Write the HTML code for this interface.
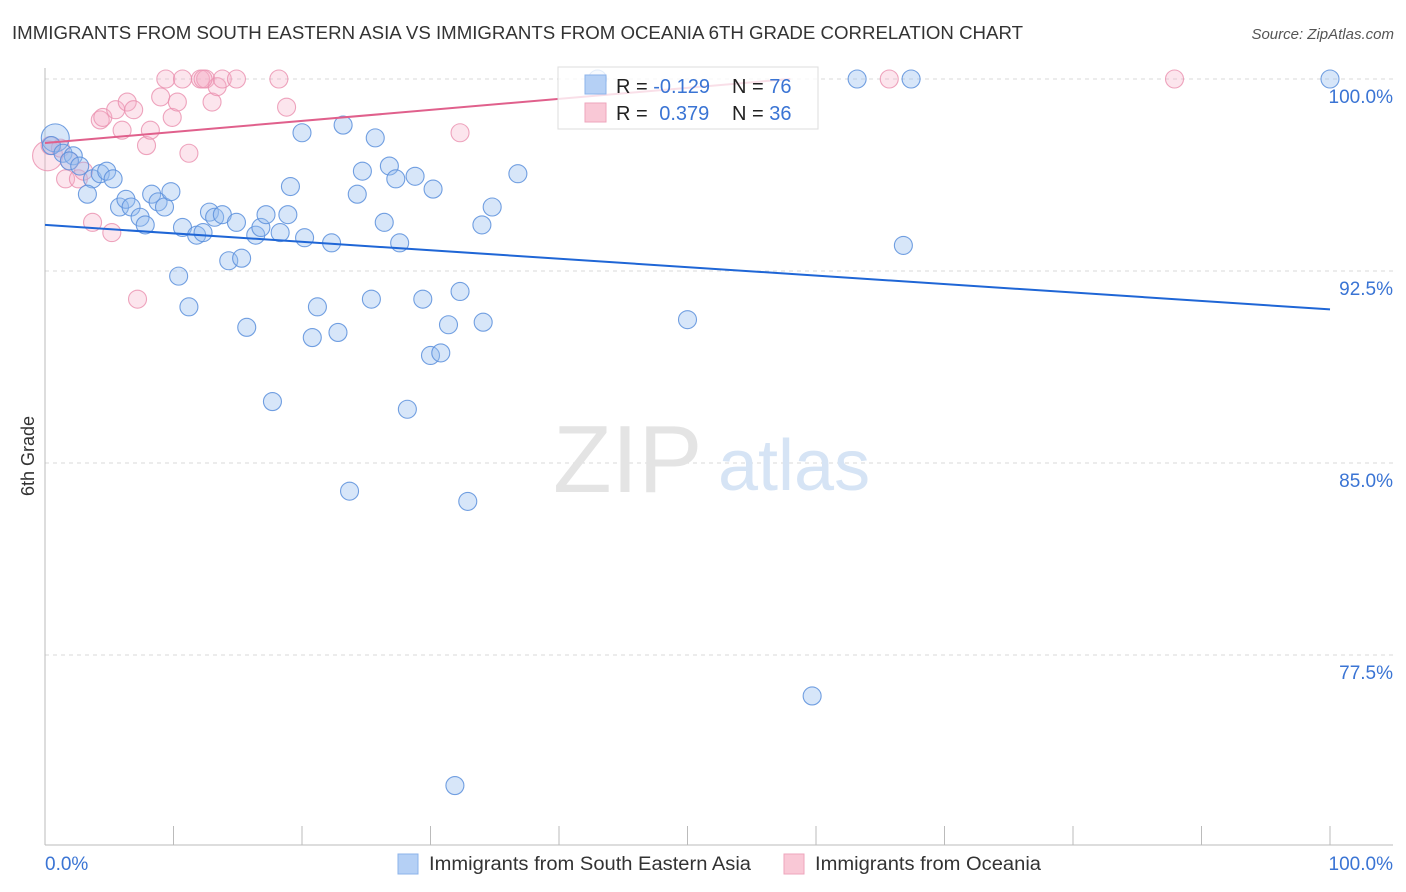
<!DOCTYPE html>
<html><head><meta charset="utf-8">
<style>
body{margin:0;background:#fff;font-family:"Liberation Sans",sans-serif;}
#wrap{position:relative;width:1406px;height:892px;overflow:hidden;}
svg text{font-family:"Liberation Sans",sans-serif;}
</style></head>
<body>
<div id="wrap">
<svg id="chart" width="1406" height="892">
<text x="12" y="39" font-size="18" fill="#333" textLength="1011" lengthAdjust="spacingAndGlyphs">IMMIGRANTS FROM SOUTH EASTERN ASIA VS IMMIGRANTS FROM OCEANIA 6TH GRADE CORRELATION CHART</text>
<text x="1394" y="39" font-size="15" fill="#555" font-style="italic" text-anchor="end">Source: ZipAtlas.com</text>
<text x="34" y="456" font-size="18" fill="#333" text-anchor="middle" transform="rotate(-90 34 456)">6th Grade</text>
<g id="grid"></g>
<text x="553" y="492" font-size="96" fill="#e4e4e4" font-family="Liberation Serif">ZIP</text>
<text x="718" y="490" font-size="72" fill="#d6e4f5">atlas</text>
<g id="pts"></g>
<g id="lines"></g>
<g>
<rect x="558" y="67" width="260" height="62" fill="rgba(255,255,255,0.8)" stroke="#ddd"/>
<rect x="585" y="75" width="21" height="19" fill="#b5d0f5" stroke="#8cb3ea"/>
<rect x="585" y="103" width="21" height="19" fill="#f9c8d6" stroke="#eea6bc"/>
<text x="616" y="93" font-size="20" fill="#222">R = <tspan fill="#3a74d4">-0.129</tspan></text>
<text x="732" y="93" font-size="20" fill="#222">N = <tspan fill="#3a74d4">76</tspan></text>
<text x="616" y="120" font-size="20" fill="#222">R = <tspan fill="#3a74d4" dx="6">0.379</tspan></text>
<text x="732" y="120" font-size="20" fill="#222">N = <tspan fill="#3a74d4">36</tspan></text>
</g>
<g>
<rect x="398" y="854" width="20" height="20" fill="#b5d0f5" stroke="#8cb3ea"/>
<text x="429" y="870" font-size="19" fill="#333" textLength="322" lengthAdjust="spacingAndGlyphs">Immigrants from South Eastern Asia</text>
<rect x="784" y="854" width="20" height="20" fill="#f9c8d6" stroke="#eea6bc"/>
<text x="815" y="870" font-size="19" fill="#333" textLength="226" lengthAdjust="spacingAndGlyphs">Immigrants from Oceania</text>
</g>
</svg>
</div>
<script>
const blueX=[0.8,0.5,1.4,2.2,1.9,2.7,3.7,3.3,4.3,4.8,5.3,5.8,6.3,6.7,7.4,7.8,8.3,8.8,9.3,9.8,10.4,10.7,11.2,11.8,12.3,12.8,13.2,13.8,14.3,14.9,15.3,15.7,16.4,16.8,17.2,17.7,18.3,18.9,19.1,20.0,20.2,20.8,21.2,22.3,22.8,23.2,23.7,24.3,24.7,25.4,25.7,26.4,26.8,27.3,27.6,28.2,28.8,29.4,30.0,30.2,30.8,31.4,31.9,32.3,32.9,34.0,34.1,34.8,36.8,43.0,50.0,59.7,63.2,66.8,67.4,100];
const blueY=[97.7,97.4,97.1,97.0,96.8,96.6,96.1,95.5,96.3,96.4,96.1,95.0,95.3,95.0,94.6,94.3,95.5,95.2,95.0,95.6,92.3,94.2,91.1,93.9,94.0,94.8,94.6,94.7,92.9,94.4,93.0,90.3,93.9,94.2,94.7,87.4,94.0,94.7,95.8,97.9,93.8,89.9,91.1,93.6,90.1,98.2,83.9,95.5,96.4,91.4,97.7,94.4,96.6,96.1,93.6,87.1,96.2,91.4,89.2,95.7,89.3,90.4,72.4,91.7,83.5,94.3,90.5,95.0,96.3,100,90.6,75.9,100,93.5,100,100];
const pinkX=[0.2,0.4,1.2,1.6,2.6,3.0,3.7,4.3,4.5,5.2,5.5,6.0,6.4,6.9,7.2,7.9,8.2,9.0,9.4,9.9,10.3,10.7,11.2,12.1,12.5,13.0,13.4,13.8,14.9,18.2,18.8,32.3,65.7,87.9,1.9,12.3];
const pinkY=[97.0,97.4,97.3,96.1,96.1,96.4,94.4,98.4,98.5,94.0,98.8,98.0,99.1,98.8,91.4,97.4,98.0,99.3,100,98.5,99.1,100,97.1,100,100,99.1,99.7,100,100,100,98.9,97.9,100,100,96.8,100];
const blueTrend=[94.3,91.0];
const pinkTrend=[97.5,100];
const yTicks=[100,92.5,85,77.5];
const yTickLabels=["100.0%","92.5%","85.0%","77.5%"];
const xTicks=[0,10,20,30,40,50,60,70,80,90,100];

const NS="http://www.w3.org/2000/svg";
const X0=45,X1=1330,YTOP=79;
const sx=v=>X0+(X1-X0)*v/100;
const sy=v=>YTOP+(100-v)*25.6;
function mk(tag,attrs,parent){const e=document.createElementNS(NS,tag);for(const k in attrs)e.setAttribute(k,attrs[k]);parent.appendChild(e);return e;}
const grid=document.getElementById('grid');
yTicks.forEach((t,i)=>{
  const l=mk('line',{x1:X0,x2:1393,y1:sy(t),y2:sy(t),stroke:'#d8d8d8','stroke-dasharray':'4,4'},grid);
  
  
  const tx=mk('text',{x:1393,y:sy(t)+24,'font-size':19,fill:'#3a74d4','text-anchor':'end'},grid);
  tx.textContent=yTickLabels[i];
  
  
});
let a=mk('line',{x1:X0,x2:X0,y1:68,y2:845,stroke:'#bbb'},grid);


a=mk('line',{x1:X0,x2:1393,y1:845,y2:845,stroke:'#bbb'},grid);


xTicks.forEach(t=>{
  const l=mk('line',{x1:sx(t),x2:sx(t),y1:826,y2:845,stroke:'#bbb'},grid);
  
  
});
let t0=mk('text',{x:45,y:870,'font-size':19,fill:'#3a74d4'},grid);t0.textContent='0.0%';


let t1=mk('text',{x:1393,y:870,'font-size':19,fill:'#3a74d4','text-anchor':'end'},grid);t1.textContent='100.0%';



const pts=document.getElementById('pts');
pinkX.forEach((x,i)=>{
  const c=mk('circle',{cx:sx(x),cy:sy(pinkY[i]),r:i===0?15:9,fill:'rgba(246,175,198,0.32)',stroke:'rgba(234,143,174,0.8)','stroke-width':1.1},pts);
  
  
});
blueX.forEach((x,i)=>{
  const c=mk('circle',{cx:sx(x),cy:sy(blueY[i]),r:i===0?14:9,fill:'rgba(150,190,240,0.38)',stroke:'rgba(90,143,220,0.85)','stroke-width':1.1},pts);
  
  
});
const lines=document.getElementById('lines');
let bl=mk('line',{x1:sx(0),y1:sy(blueTrend[0]),x2:sx(100),y2:sy(blueTrend[1]),stroke:'#1f66d6','stroke-width':2},lines);


const pEnd=58;
let pl=mk('line',{x1:sx(0),y1:sy(pinkTrend[0]),x2:sx(pEnd),y2:sy(pinkTrend[1]),stroke:'#e0608c','stroke-width':2},lines);


</script>
</body></html>
